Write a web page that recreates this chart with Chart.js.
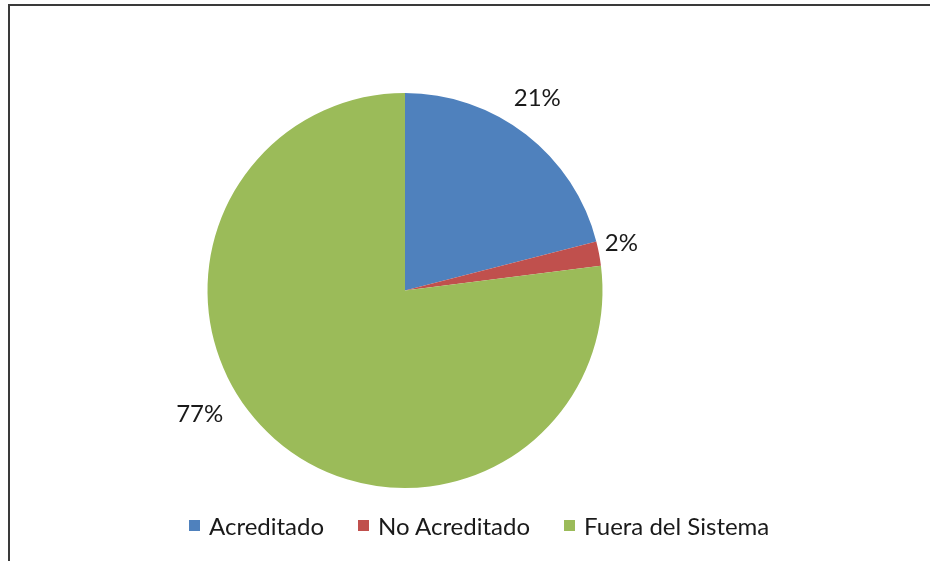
<!DOCTYPE html>
<html>
<head>
<meta charset="utf-8">
<script src="https://cdn.jsdelivr.net/npm/chart.js@4.4.1/dist/chart.umd.min.js"></script>
<style>
  html, body { margin: 0; padding: 0; background: #fff; }
  #wrap { position: relative; width: 930px; height: 561px; overflow: hidden; }
  #frame { position: absolute; left: 8px; top: 4px; width: 1000px; height: 700px;
           border-left: 2px solid #3a3a3a; border-top: 2px solid #3a3a3a; }
  canvas { position: absolute; left: 0; top: 0; }
  #legend { position: absolute; left: 189px; top: 510px; height: 30px;
            display: flex; align-items: center; font: 24px Lato; color: #1a1a1a; }
  #legend .item { display: flex; align-items: center; margin-right: 34px; white-space: nowrap; }
  #legend .box { width: 11px; height: 11px; margin-right: 9px; }
</style>
</head>
<body>
<div id="wrap">
  <div id="frame"></div>
  <canvas id="pieChart" width="930" height="561"></canvas>
  <div id="legend"></div>
</div>
<script>
const categories = ['Acreditado', 'No Acreditado', 'Fuera del Sistema'];
const shares = [21, 2, 77];
const sliceColors = ['#4F81BD', '#C0504D', '#9BBB59'];

// where each % label sits: extra angle (deg) from the slice middle, and gap past the rim
const labelShift = [-3.3, -1.5, 17.6];
const labelGap = [36, 24, 42];

const pctLabels = {
  id: 'pctLabels',
  afterDatasetsDraw(chart) {
    const ctx = chart.ctx;
    const arcs = chart.getDatasetMeta(0).data;
    ctx.save();
    ctx.font = '24px Lato';
    ctx.fillStyle = '#1a1a1a';
    ctx.textAlign = 'center';
    ctx.textBaseline = 'middle';
    arcs.forEach((arc, i) => {
      const p = arc.getProps(['x', 'y', 'startAngle', 'endAngle', 'outerRadius'], true);
      const a = (p.startAngle + p.endAngle) / 2 + labelShift[i] * Math.PI / 180;
      const d = p.outerRadius + labelGap[i];
      ctx.fillText(shares[i] + '%', p.x + Math.cos(a) * d, p.y + Math.sin(a) * d);
    });
    ctx.restore();
  }
};

// legend built from the chart's own legend items, laid out in html
const htmlLegend = {
  id: 'htmlLegend',
  afterUpdate(chart) {
    const box = document.getElementById('legend');
    box.innerHTML = '';
    const items = chart.options.plugins.legend.labels.generateLabels(chart);
    items.forEach(item => {
      const el = document.createElement('div');
      el.className = 'item';
      const sw = document.createElement('span');
      sw.className = 'box';
      sw.style.background = item.fillStyle;
      const tx = document.createElement('span');
      tx.textContent = item.text;
      el.appendChild(sw);
      el.appendChild(tx);
      box.appendChild(el);
    });
  }
};

const pieChart = document.getElementById('pieChart');

const pieChart_1 = new Chart(pieChart, {
  type: 'pie',
  data: {
    labels: categories,
    datasets: [{
      data: shares,
      backgroundColor: sliceColors,
      borderWidth: 0,
    }]
  },
  options: {
    responsive: false,
    animation: false,
    layout: {
      padding: { top: 93, left: 0, right: 120, bottom: 73 }
    },
    plugins: {
      legend: { display: false },
      tooltip: { enabled: false }
    }
  },
  plugins: [pctLabels, htmlLegend]
});
</script>
</body>
</html>
